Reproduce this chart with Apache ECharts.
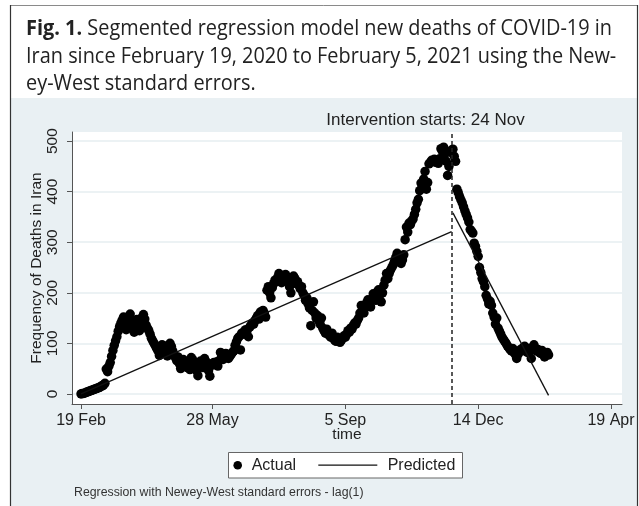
<!DOCTYPE html>
<html><head><meta charset="utf-8">
<script src="https://cdn.jsdelivr.net/npm/echarts@6/dist/echarts.min.js"></script>
<style>html,body{margin:0;padding:0;background:#fff}#c{width:639px;height:506px}</style>
</head><body><div id="c"></div>
<script>
// x = days since 19 Feb 2020
const tickDays = [0, 99, 199, 299, 399];
const tickLabels = ['19 Feb', '28 May', '5 Sep', '14 Dec', '19 Apr'];
const yTicks = [0, 100, 200, 300, 400, 500];
const interventionDay = 279;
const interventionLabel = 'Intervention starts: 24 Nov';
// daily new deaths, day 0 .. 352
const deaths = [
  0, 1, 1, 2, 3, 4, 5, 6, 7, 8,
  9, 10, 11, 12, 13, 15, 16, 18, 21, 49,
  44, 55, 62, 74, 86, 96, 105, 113, 124, 133,
  140, 146, 152, 140, 127, 135, 150, 158, 145, 130,
  122, 138, 147, 140, 125, 133, 151, 157, 148, 136,
  130, 125, 118, 110, 105, 100, 95, 90, 85, 76,
  88, 97, 95, 90, 82, 75, 96, 100, 94, 85,
  78, 72, 66, 73, 60, 50, 64, 68, 62, 57,
  52, 55, 48, 72, 68, 62, 55, 46, 36, 58,
  65, 58, 52, 70, 64, 55, 46, 35, 56, 60,
  62, 58, 63, 55, 66, 82, 75, 68, 72, 80,
  78, 70, 74, 78, 82, 85, 96, 103, 110, 113,
  87, 120, 118, 124, 127, 125, 113, 132, 136, 140,
  138, 145, 150, 155, 148, 162, 158, 165, 160, 152,
  205, 212, 200, 190, 210, 218, 225, 222, 230, 238,
  228, 220, 232, 226, 236, 230, 222, 212, 200, 225,
  233, 228, 218, 222, 215, 208, 212, 200, 195, 185,
  190, 178, 170, 135, 165, 182, 160, 150, 155, 145,
  138, 150, 130, 125, 120, 128, 118, 115, 112, 120,
  110, 106, 104, 112, 108, 102, 106, 110, 115, 112,
  118, 125, 122, 130, 128, 135, 140, 138, 145, 150,
  160, 175, 168, 160, 172, 180, 186, 176, 172, 185,
  198, 192, 185, 202, 206, 196, 182, 200, 215, 225,
  238, 228, 238, 245, 250, 255, 262, 270, 278, 270,
  262, 258, 265, 275, 305, 330, 320, 338, 335, 342,
  346, 355, 365, 378, 385, 402, 417, 410, 425, 440,
  405, 418, 455, 458, 462, 460, 464, 458, 462, 456,
  465, 485, 480, 488, 475, 460, 432, 450, 478, 482,
  484, 470, 460, 405, 398, 390, 384, 378, 370, 362,
  355, 348, 340, 325, 322, 318, 298, 292, 282, 272,
  250, 240, 228, 222, 212, 195, 188, 178, 183, 175,
  160, 152, 138, 150, 130, 124, 118, 112, 108, 104,
  100, 95, 92, 88, 85, 90, 82, 78, 70, 78,
  84, 88, 85, 92, 94, 88, 82, 90, 86, 70,
  92, 97, 90, 85, 88, 82, 80, 86, 78, 73,
  80, 82, 77
];
const predictedPre = [[0, 0], [279, 321]];
const predictedPost = [[280, 358], [352, -3]];
const titleBold = 'Fig. 1.';
const titleLines = [
  ' Segmented regression model new deaths of COVID-19 in',
  'Iran since February 19, 2020 to February 5, 2021 using the New-',
  'ey-West standard errors.'
];
const legendNames = ['Actual', 'Predicted'];
const noteText = 'Regression with Newey-West standard errors - lag(1)';

const FF = '"Liberation Sans", Arial, sans-serif';
const TF = '"Open Sans", sans-serif';
const ctx = document.createElement('canvas').getContext('2d');
ctx.font = 'bold 22px ' + TF;
const wb = ctx.measureText(titleBold).width;
ctx.font = '22px ' + TF;
const wr = ctx.measureText(titleLines[0]).width;
const sx = 586 / (wb + wr);

const chart = echarts.init(document.getElementById('c'), null, {renderer: 'canvas'});
const titleEls = [
  {type: 'text', x: 26, y: 29, scaleX: sx, z: 50,
   style: {x: 0, y: 0, text: '{b|' + titleBold + '}' + titleLines[0], font: '22px ' + TF, fill: '#222', verticalAlign: 'middle',
           rich: {b: {fontWeight: 'bold', fontSize: 22, fontFamily: TF, fill: '#222'}}}},
  {type: 'text', x: 26, y: 56.5, scaleX: sx, z: 50,
   style: {x: 0, y: 0, text: titleLines[1], font: '22px ' + TF, fill: '#222', verticalAlign: 'middle'}},
  {type: 'text', x: 26, y: 84, scaleX: sx, z: 50,
   style: {x: 0, y: 0, text: titleLines[2], font: '22px ' + TF, fill: '#222', verticalAlign: 'middle'}}
];
chart.setOption({
  animation: false,
  backgroundColor: '#ffffff',
  grid: {left: 72, right: 17, top: 132, bottom: 102, show: true, backgroundColor: '#ffffff', borderWidth: 0, containLabel: false, outerBoundsMode: 'none'},
  xAxis: {
    type: 'value', min: -6.8, max: 407.3,
    axisLine: {show: true, onZero: false, lineStyle: {color: '#555', width: 1}},
    axisTick: {show: true, length: 5, customValues: tickDays, lineStyle: {color: '#555', width: 1}},
    axisLabel: {show: true, customValues: tickDays, formatter: v => tickLabels[tickDays.indexOf(v)], fontSize: 16, fontFamily: FF, color: '#222', margin: 9},
    splitLine: {show: false},
    name: 'time', nameLocation: 'middle', nameGap: 23, nameMoveOverlap: false,
    nameTextStyle: {fontSize: 15.5, fontFamily: FF, color: '#222'}
  },
  yAxis: {
    type: 'value', min: -20, max: 518,
    axisLine: {show: true, onZero: false, lineStyle: {color: '#555', width: 1}},
    axisTick: {show: true, length: 5, customValues: yTicks, lineStyle: {color: '#555', width: 1}},
    axisLabel: {show: true, customValues: yTicks, rotate: 90, fontSize: 15.5, fontFamily: FF, color: '#222', margin: 11},
    splitLine: {show: true, lineStyle: {color: '#e6eef1', width: 1.5}},
    name: 'Frequency of Deaths in Iran', nameLocation: 'middle', nameGap: 27, nameRotate: 90, nameMoveOverlap: false,
    nameTextStyle: {fontSize: 15.5, fontFamily: FF, color: '#222'}
  },
  series: [
    {type: 'scatter', name: legendNames[0], data: deaths.map((v, i) => [i, v]), symbol: 'circle', symbolSize: 9.5,
     itemStyle: {color: '#000', opacity: 1}, z: 2,
     markLine: {silent: true, symbol: ['none', 'none'], label: {show: false},
       lineStyle: {type: [4, 3], color: '#222', width: 1.5}, data: [{xAxis: interventionDay}]}},
    {type: 'line', name: legendNames[1], data: predictedPre, showSymbol: false, symbol: 'none',
     lineStyle: {color: '#111', width: 1.3}, z: 3},
    {type: 'line', name: legendNames[1] + ' ', data: predictedPost, showSymbol: false, symbol: 'none',
     lineStyle: {color: '#111', width: 1.3}, z: 3}
  ],
  graphic: {elements: [
    {type: 'rect', z: -100, shape: {x: 10, y: 98, width: 627, height: 420}, style: {fill: '#e9f0f3'}},
    {type: 'line', z: 100, shape: {x1: 10, y1: 5.5, x2: 637.5, y2: 5.5}, style: {stroke: '#8a8a8a', lineWidth: 1}},
    {type: 'line', z: 100, shape: {x1: 10.5, y1: 5, x2: 10.5, y2: 506}, style: {stroke: '#333', lineWidth: 1.2}},
    {type: 'line', z: 100, shape: {x1: 637.5, y1: 5, x2: 637.5, y2: 506}, style: {stroke: '#333', lineWidth: 1.2}},
    ...titleEls,
    {type: 'text', x: 425.5, y: 120, z: 50, style: {text: interventionLabel, font: '17px ' + FF, fill: '#222', textAlign: 'center', verticalAlign: 'middle'}},
    {type: 'rect', z: 50, shape: {x: 228.5, y: 452.5, width: 234, height: 25.5}, style: {fill: '#fff', stroke: '#666', lineWidth: 1}},
    {type: 'circle', z: 51, shape: {cx: 237.7, cy: 465.2, r: 4.3}, style: {fill: '#000'}},
    {type: 'text', x: 251.7, y: 465.5, z: 51, style: {text: legendNames[0], font: '16px ' + FF, fill: '#222', verticalAlign: 'middle'}},
    {type: 'line', z: 51, shape: {x1: 318.3, y1: 465.2, x2: 377.3, y2: 465.2}, style: {stroke: '#111', lineWidth: 1.3}},
    {type: 'text', x: 387.7, y: 465.5, z: 51, style: {text: legendNames[1], font: '16px ' + FF, fill: '#222', verticalAlign: 'middle'}},
    {type: 'text', x: 74, y: 492.5, z: 50, style: {text: noteText, font: '12.3px ' + FF, fill: '#333', verticalAlign: 'middle'}}
  ]}
});
</script></body></html>
